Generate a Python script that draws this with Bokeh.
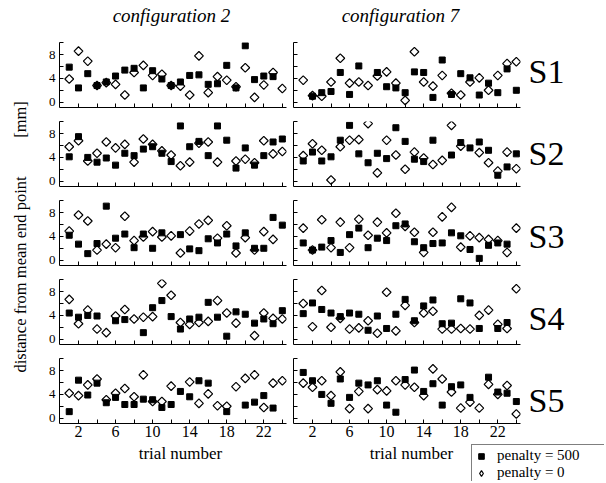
import numpy as np
from bokeh.plotting import figure
from bokeh.layouts import row, column
from bokeh.models import Range1d, FixedTicker, Legend, LegendItem
from bokeh.core.properties import value
from bokeh.embed import file_html
from bokeh.resources import INLINE

nan = np.nan
FONT = "Liberation Serif"

trials = list(range(1, 25))
x_major = [2, 6, 10, 14, 18, 22]
x_minor = [4, 8, 12, 16, 20, 24]
x_all = list(range(2, 25, 2))
y_major = [0, 4, 8]
y_minor = [2, 6, 10]
y_all = [0, 2, 4, 6, 8, 10]
subjects = ["S1", "S2", "S3", "S4", "S5"]
configs = ["configuration 2", "configuration 7"]
series_names = ["penalty = 500", "penalty = 0"]
x_title = "trial number"
y_title = "distance from mean end point"
y_unit = "[mm]"

# configuration 2
c2_s1_p500 = [5.9, 2.4, 4.8, 2.8, 3.4, 4.4, 5.4, 5.7, 2.4, 5.3, 3.9, 2.8, 3.4, 4.5, 4.6, 3.0, 3.1, 6.2, 2.4, 9.5, 3.8, 4.4, 4.3, nan]
c2_s1_p0 = [3.9, 8.6, 6.9, 2.8, 3.3, 3.0, 1.2, 5.0, 6.2, 4.5, 4.7, 2.8, 2.7, 1.2, 7.8, 1.6, 4.3, 3.7, 2.6, 5.8, 0.8, 2.9, 5.0, 2.3]
c2_s2_p500 = [4.1, 7.5, 4.0, 3.2, 3.9, 2.7, 4.7, 4.3, 5.4, 5.8, 4.7, 3.3, 9.3, 5.8, 6.7, 4.3, 9.3, 6.9, 2.2, 5.6, 2.7, 4.3, 6.6, 7.1]
c2_s2_p0 = [5.8, 6.8, 3.4, 4.7, 6.6, 5.6, 6.2, 3.2, 7.1, 6.2, 5.1, 4.4, 2.6, 3.2, 6.4, 6.6, 3.2, nan, 3.4, 3.7, 3.1, 6.8, 4.6, 5.0]
c2_s3_p500 = [4.2, 2.7, 1.1, 2.8, 9.1, 3.7, 4.4, 2.1, 4.4, 2.0, 4.6, nan, 4.3, 1.9, 1.6, 3.6, 2.9, 4.4, 2.4, 4.6, 2.0, 2.0, 7.2, 5.9]
c2_s3_p0 = [4.9, 7.6, 6.6, 1.7, 2.7, 2.1, 7.4, 3.3, 3.9, 4.8, 3.9, 4.1, 1.2, 4.9, 6.1, 6.7, 3.7, 5.8, 1.2, 3.8, 1.7, 4.8, 3.5, nan]
c2_s4_p500 = [4.4, 3.7, 4.0, 3.9, nan, 3.1, 3.3, nan, 1.1, 5.3, 6.5, 3.8, 1.7, 3.4, 3.7, 6.2, 3.7, 0.5, 4.6, 4.2, 2.7, 3.4, 2.6, 4.8]
c2_s4_p0 = [6.7, 2.6, 4.9, 1.7, 1.1, 3.9, 5.0, 3.4, 3.7, 3.8, 9.4, 7.4, 2.8, 2.5, 2.8, 3.0, 6.5, 4.4, 2.7, nan, 0.6, 4.4, 3.5, 3.4]
c2_s5_p500 = [1.1, 6.4, 3.9, 5.9, 2.6, 3.5, 2.3, 2.3, 3.2, 3.1, 1.8, 2.3, 4.5, 3.6, 6.3, 5.9, nan, 1.1, nan, 2.2, 2.7, 3.8, 1.7, nan]
c2_s5_p0 = [4.2, 3.8, 5.6, 6.6, 3.1, 4.2, 5.0, 3.6, 7.3, 2.8, 2.8, 5.4, nan, 6.1, 2.5, 4.1, 2.1, 2.0, 5.3, 6.7, 7.3, 1.8, 5.9, 6.3]

# configuration 7
c7_s1_p500 = [nan, 1.0, 1.6, 1.8, 5.0, 1.3, 6.1, nan, 5.0, 2.6, 2.4, 1.6, 5.1, 5.0, 0.8, 7.1, 1.3, 4.8, 4.1, 1.2, 3.2, 1.6, 5.6, 2.0]
c7_s1_p0 = [3.7, 1.1, 1.0, 3.4, 7.4, 3.2, 3.4, 2.8, 4.4, 5.1, 3.2, 0.3, 8.5, 3.4, 2.7, 4.5, 1.5, 1.2, 3.4, 4.1, 2.0, 4.5, 6.5, 6.8]
c7_s2_p500 = [3.4, 4.9, 3.4, 4.1, 6.9, 9.4, 4.6, 3.1, 4.7, 3.8, 9.0, 6.7, 3.7, 3.3, 6.9, nan, 4.4, 6.5, 5.6, 6.6, 5.2, 1.0, 2.4, 4.6]
c7_s2_p0 = [4.3, 6.3, 5.2, 0.2, 5.8, 6.9, 7.0, 9.7, 1.4, 6.9, 4.4, 2.0, 4.9, 3.9, 2.8, 3.5, 9.4, 5.9, nan, 4.8, 3.1, 1.7, 4.9, 2.1]
c7_s3_p500 = [2.9, 1.7, 2.2, 3.3, 1.3, 4.3, 5.4, 2.1, 3.7, 3.3, 5.8, 6.1, 3.1, 2.1, 2.8, 2.9, 4.6, 4.1, 1.8, 0.3, 2.5, 2.9, 2.7, nan]
c7_s3_p0 = [5.4, 1.7, 6.8, 2.1, 6.4, 2.1, 6.9, 4.2, 6.4, 4.6, 7.9, 5.7, 4.7, 1.3, 4.7, 7.3, 8.9, 2.2, 4.1, 3.8, 3.5, 3.3, 1.3, 5.4]
c7_s4_p500 = [4.3, 6.1, 5.0, 4.4, 3.8, 4.4, 4.2, 1.5, 3.9, 1.8, 4.2, 6.7, 3.1, 5.6, 6.6, 2.6, 2.7, 6.8, 6.1, 1.8, nan, 1.8, 2.8, nan]
c7_s4_p0 = [6.0, 2.1, 8.2, 2.0, 3.5, 1.7, 1.9, 3.1, 1.0, 7.9, 1.4, 5.7, 2.8, 4.4, 4.7, 1.7, 1.7, 1.8, 1.7, 4.0, 4.9, 2.5, 1.8, 8.5]
c7_s5_p500 = [7.7, 6.3, 4.0, 2.5, 6.6, 3.5, 5.9, 5.6, 6.3, 2.2, 1.0, 6.5, 8.1, 4.5, 5.8, 2.2, 5.3, 5.6, 3.5, nan, 6.9, 4.4, 4.2, 2.8]
c7_s5_p0 = [5.9, 5.2, 6.3, 3.8, 7.8, 1.6, 4.5, 1.6, 4.8, 4.6, 6.3, 5.6, 5.2, 3.8, 8.3, 6.6, 4.4, 1.7, 2.7, 1.7, 5.7, 4.0, 5.5, 0.7]

conf2 = [(c2_s1_p500, c2_s1_p0), (c2_s2_p500, c2_s2_p0), (c2_s3_p500, c2_s3_p0),
         (c2_s4_p500, c2_s4_p0), (c2_s5_p500, c2_s5_p0)]
conf7 = [(c7_s1_p500, c7_s1_p0), (c7_s2_p500, c7_s2_p0), (c7_s3_p500, c7_s3_p0),
         (c7_s4_p500, c7_s4_p0), (c7_s5_p500, c7_s5_p0)]

SQ = dict(marker="square", size=6, fill_color="black", line_color="black")
DI = dict(marker="square", angle=np.pi / 4, size=6.2, fill_color=None,
          line_color="black", line_width=1.2)


def blank(w, h):
    p = figure(width=w, height=h, x_range=Range1d(0, w), y_range=Range1d(0, h),
               x_axis_location=None, y_axis_location=None, min_border=0,
               output_backend="svg", toolbar_location=None)
    p.outline_line_color = None
    p.grid.visible = False
    return p


def style_axis(ax, size, standoff):
    ax.axis_line_color = "black"
    ax.major_tick_line_color = "black"
    ax.minor_tick_line_color = "black"
    ax.major_tick_in = 4
    ax.major_tick_out = 0
    ax.minor_tick_in = 4
    ax.minor_tick_out = 0
    ax.major_label_text_font = FONT
    ax.major_label_text_color = "black"
    ax.major_label_text_font_size = size
    ax.major_label_standoff = standoff


def make_panel(p500, p0, left, bottom):
    p = figure(width=252 if left else 234, height=92 if bottom else 79,
               x_range=Range1d(-0.05, 24.45), y_range=Range1d(-0.9, 10.05),
               output_backend="svg", toolbar_location=None,
               min_border_left=21 if left else 3, min_border_right=4,
               min_border_top=7, min_border_bottom=20 if bottom else 7)
    p.outline_line_color = None
    p.grid.visible = False
    p.scatter(trials, p0, **DI)
    p.scatter(trials, p500, **SQ)
    xa = p.xaxis[0]
    if bottom:
        xa.ticker = FixedTicker(ticks=x_major, minor_ticks=x_minor)
        style_axis(xa, "16px", 2)
    else:
        xa.ticker = FixedTicker(ticks=[], minor_ticks=x_all)
        style_axis(xa, "16px", 0)
    ya = p.yaxis[0]
    if left:
        ya.ticker = FixedTicker(ticks=y_major, minor_ticks=y_minor)
        style_axis(ya, "13px", 4)
    else:
        ya.ticker = FixedTicker(ticks=[], minor_ticks=y_all)
        style_axis(ya, "13px", 0)
    return p


left_col = column(*[make_panel(a, b, True, i == 4) for i, (a, b) in enumerate(conf2)])
right_col = column(*[make_panel(a, b, False, i == 4) for i, (a, b) in enumerate(conf7)])

# titles
tf = blank(604, 35)
tf.text(x=[171, 400], y=[20, 20], text=configs, text_font=value(FONT),
        text_font_style="italic", text_font_size="19px", text_align="center",
        text_baseline="middle", text_color="black")

# y label
yl = blank(38, 408)
yl.text(x=[20, 20], y=[443 - 274, 443 - 119], text=[y_title, y_unit], angle=np.pi / 2,
        text_font=value(FONT), text_font_size="16.5px", text_align="center",
        text_baseline="middle", text_color="black")

# subject labels
sl = blank(80, 408)
sl.text(x=[4] * 5, y=[443 - v for v in [71, 153, 236, 318, 400]], text=subjects,
        text_font=value(FONT), text_font_size="34px", text_align="left",
        text_baseline="middle", text_color="black")

# bottom strip with axis titles and legend
bs = blank(604, 38)
bs.text(x=[180, 411], y=[28, 28], text=[x_title, x_title], text_font=value(FONT),
        text_font_size="17px", text_align="center", text_baseline="middle", text_color="black")
r_sq = bs.scatter([-100], [-100], **SQ)
r_di = bs.scatter([-100], [-100], marker="diamond", size=9, fill_color=None,
                  line_color="black", line_width=1.2)
leg = Legend(items=[LegendItem(label=series_names[0], renderers=[r_sq]),
                    LegendItem(label=series_names[1], renderers=[r_di])],
             location=(471, -3), orientation="vertical",
             label_text_font=FONT, label_text_font_size="15px", label_text_color="black",
             border_line_color="black", border_line_width=1, background_fill_color="white",
             background_fill_alpha=1.0, padding=2, spacing=0, margin=0,
             glyph_height=14, glyph_width=14, label_height=14, label_standoff=9,
             label_width=112)
bs.add_layout(leg)

layout = column(tf, row(yl, left_col, right_col, sl), bs)

open("out.html", "w").write(file_html(layout, INLINE))
